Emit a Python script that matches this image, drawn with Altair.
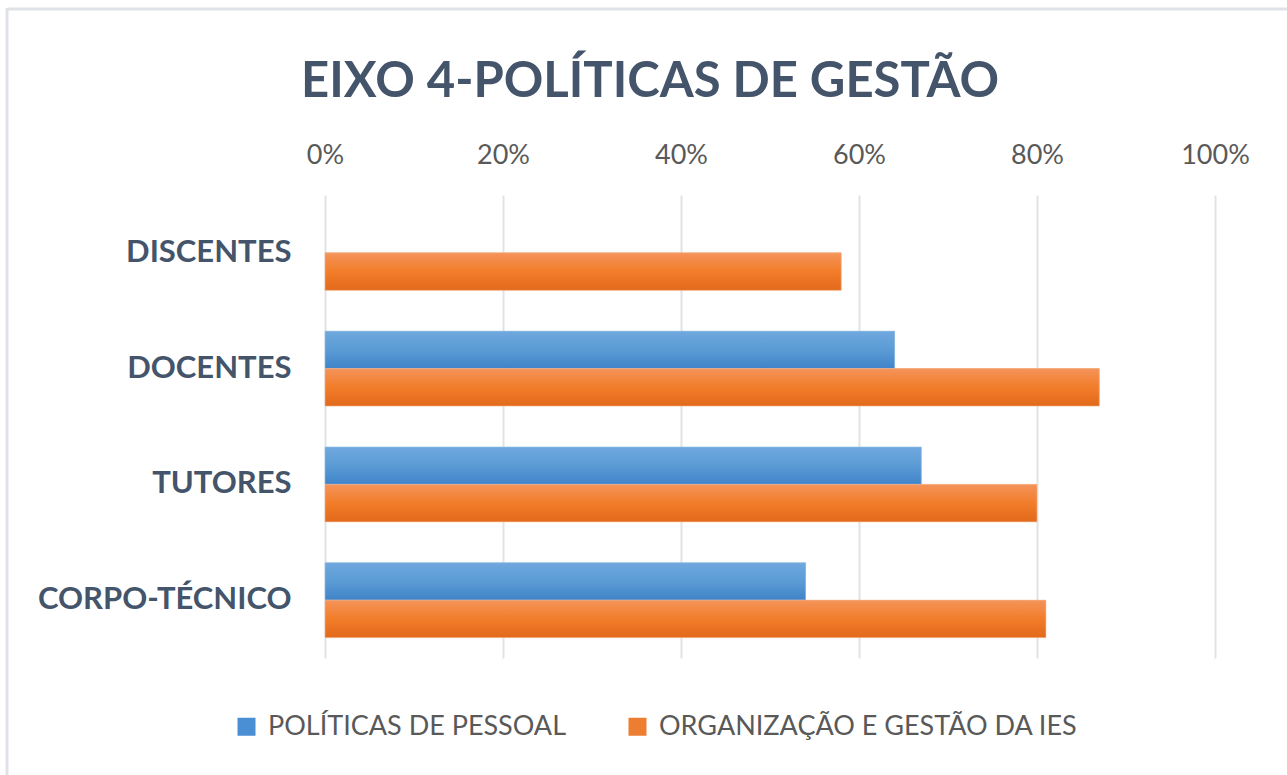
import altair as alt
import pandas as pd

categories = ["DISCENTES", "DOCENTES", "TUTORES", "CORPO-TÉCNICO"]
series = ["POLÍTICAS DE PESSOAL", "ORGANIZAÇÃO E GESTÃO DA IES"]
pessoal = [None, 0.64, 0.67, 0.54]
organizacao = [0.58, 0.87, 0.80, 0.81]
x_ticks = [0, 0.2, 0.4, 0.6, 0.8, 1.0]
title_text = "EIXO 4-POLÍTICAS DE GESTÃO"

rows = []
for c, v in zip(categories, pessoal):
    if v is not None:
        rows.append({"cat": c, "serie": series[0], "val": v})
for c, v in zip(categories, organizacao):
    rows.append({"cat": c, "serie": series[1], "val": v})
df = pd.DataFrame(rows)

FONT = "Lato"
blue_grad = alt.LinearGradient(gradient="linear", x1=0, x2=0, y1=0, y2=1,
    stops=[alt.GradientStop(color="#6fa8de", offset=0),
           alt.GradientStop(color="#5b9bd5", offset=0.5),
           alt.GradientStop(color="#3f84c9", offset=1)])
orange_grad = alt.LinearGradient(gradient="linear", x1=0, x2=0, y1=0, y2=1,
    stops=[alt.GradientStop(color="#f4935a", offset=0),
           alt.GradientStop(color="#f27d2a", offset=0.5),
           alt.GradientStop(color="#e2691b", offset=1)])

x_enc = alt.X("val:Q", scale=alt.Scale(domain=[0, 1], nice=False),
              axis=alt.Axis(orient="top", format=".0%", values=x_ticks, title=None,
                            domain=False, ticks=False, labelPadding=26, labelFlush=False,
                            labelFontSize=27, labelColor="#595959", labelFont=FONT,
                            grid=True, gridColor="#dfe3e8", gridWidth=2))
y_enc = alt.Y("cat:N", sort=categories,
              scale=alt.Scale(paddingInner=0.353, paddingOuter=0.176),
              axis=alt.Axis(title=None, domain=False, ticks=False, labelPadding=34,
                            labelFontSize=31, labelFontWeight="bold", labelColor="#44546a",
                            labelFont=FONT, labelLimit=500, grid=False))
yoff = alt.YOffset("serie:N", sort=series, scale=alt.Scale(paddingInner=0, paddingOuter=0))

base = alt.Chart(df).mark_bar().encode(
    x=x_enc, y=y_enc, yOffset=yoff,
    color=alt.Color("serie:N", sort=series,
                    scale=alt.Scale(domain=series, range=["#4a8fd4", "#ed7d31"]),
                    legend=alt.Legend(title=None, orient="none", direction="horizontal",
                                      legendX=-92, legendY=518, symbolType="square",
                                      symbolSize=324, symbolStrokeWidth=0, labelLimit=800,
                                      labelFontSize=27, labelColor="#595959", labelFont=FONT,
                                      columnPadding=57, symbolOffset=0, labelOffset=8))
)

def overlay(name, grad, edge):
    return alt.Chart(df).transform_filter(alt.datum.serie == name).mark_bar(
        fill=grad, stroke=edge, strokeWidth=0.6).encode(
        x="val:Q",
        y=alt.Y("cat:N", sort=categories),
        yOffset=alt.YOffset("serie:N", sort=series))

blue = overlay(series[0], blue_grad, "#9cc3ea")
orange = overlay(series[1], orange_grad, "#f6b78c")

title = alt.Chart(pd.DataFrame({"t": [title_text]})).mark_text(
    font=FONT, fontSize=49, fontWeight="bold", color="#44546a", align="center",
    baseline="alphabetic").encode(text="t:N", x=alt.value(325), y=alt.value(-98))

border = alt.Chart(pd.DataFrame({"k": [0]})).mark_rule(color="#dfe3e8", strokeWidth=3)
top_line = border.encode(x=alt.value(-317), x2=alt.value(965), y=alt.value(-186))
left_line = border.encode(x=alt.value(-318), y=alt.value(-187), y2=alt.value(580))

chart = alt.layer(base, blue, orange, title, top_line, left_line).properties(
    width=890, height=463,
    background="white",
    autosize=alt.AutoSizeParams(type="none"),
    padding={"left": 325, "top": 195, "right": 72, "bottom": 117},
).configure_view(strokeWidth=0, stroke="transparent").configure_axis(domain=False)

chart.save("out.html", embed_options={"renderer": "svg", "actions": False})
